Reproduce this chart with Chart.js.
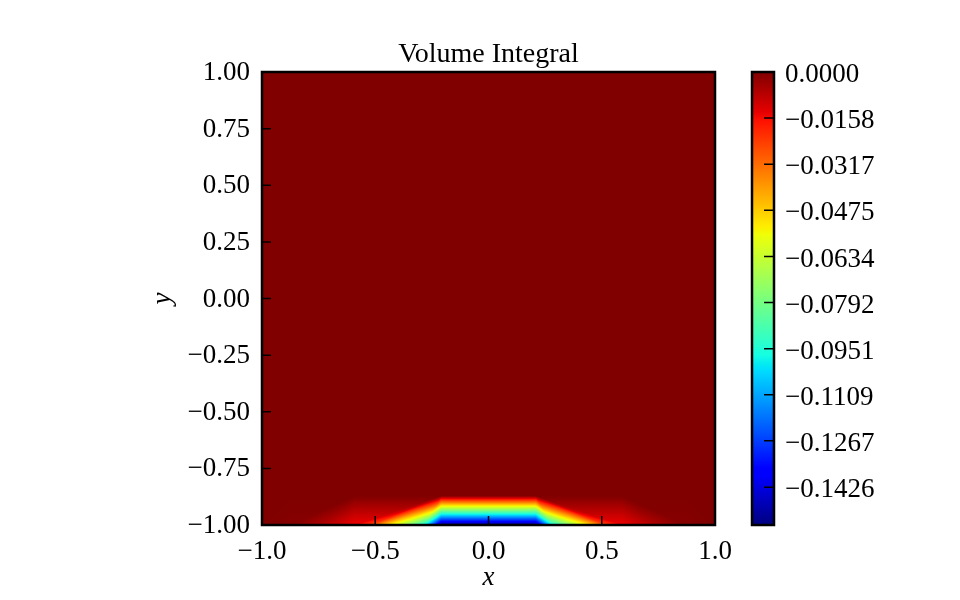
<!DOCTYPE html>
<html>
<head>
<meta charset="utf-8">
<script src="https://cdn.jsdelivr.net/npm/chart.js@4.4.0/dist/chart.umd.min.js"></script>
<style>
  html, body { margin: 0; padding: 0; background: #ffffff; }
  #wrap { position: relative; width: 960px; height: 600px; }
  #wrap canvas { position: absolute; left: 0; top: 0; }
</style>
</head>
<body>
<div id="wrap">
  <canvas id="main" width="960" height="600" style="width:960px;height:600px"></canvas>
  <canvas id="cbar" width="960" height="600" style="width:960px;height:600px;pointer-events:none"></canvas>
</div>
<script>
// ---------------- data ----------------
const chartTitle = 'Volume Integral';
const xAxisLabel = 'x';
const yAxisLabel = 'y';
const xTickValues = [-1, -0.5, 0, 0.5, 1];
const yTickValues = [-1, -0.75, -0.5, -0.25, 0, 0.25, 0.5, 0.75, 1];
const cbTickValues = [0, -0.0158, -0.0317, -0.0475, -0.0634, -0.0792, -0.0951, -0.1109, -0.1267, -0.1426];
// field values along the bottom edge (y = -1)
const bottomY = -1;
const bottomX = [-1, -0.8717, -0.73, -0.5917, -0.52, -0.48, -0.43, -0.35, -0.28, -0.2093,
                 0.2093, 0.28, 0.35, 0.43, 0.48, 0.52, 0.5917, 0.73, 0.8717, 1];
const bottomV = [0, -0.001, -0.007, -0.015, -0.025, -0.040, -0.056, -0.078, -0.100, -0.1556,
                 -0.1556, -0.100, -0.078, -0.056, -0.040, -0.025, -0.015, -0.007, -0.001, 0];
// first row of mesh nodes above the bottom edge; the field is zero there and everywhere above
const topY = -0.8717;
const topX = [-1, -0.8717, -0.5917, -0.2093, 0.2093, 0.5917, 0.8717, 1];
const topV = [0, 0, 0, 0, 0, 0, 0, 0];
const vMin = -0.1556;
const vMax = 0;

// ---------------- helpers ----------------
const FONT = "'Liberation Serif', 'DejaVu Serif', serif";
function fmt(v, d) {
  const s = Math.abs(v).toFixed(d);
  return (v < -1e-12 ? '\u2212' : '') + s;
}
function pw(pts, t) {
  if (t <= pts[0][0]) return pts[0][1];
  for (let i = 1; i < pts.length; i++) {
    if (t <= pts[i][0]) {
      const [x0, y0] = pts[i - 1], [x1, y1] = pts[i];
      return y0 + (y1 - y0) * (t - x0) / (x1 - x0);
    }
  }
  return pts[pts.length - 1][1];
}
const JR = [[0, 0], [0.35, 0], [0.66, 1], [0.89, 1], [1, 0.5]];
const JG = [[0, 0], [0.125, 0], [0.375, 1], [0.64, 1], [0.91, 0], [1, 0]];
const JB = [[0, 0.5], [0.11, 1], [0.34, 1], [0.65, 0], [1, 0]];
function jet(t) {
  t = Math.max(0, Math.min(1, t));
  return [Math.round(255 * pw(JR, t)), Math.round(255 * pw(JG, t)), Math.round(255 * pw(JB, t))];
}
// triangulation of the strip between the bottom edge and the first node row
const tris = [];
(function buildTris() {
  const bIndex = x => bottomX.findIndex(b => Math.abs(b - x) < 1e-9);
  for (let k = 0; k < topX.length - 1; k++) {
    const xa = topX[k], xb = topX[k + 1];
    const ia = bIndex(xa), ib = bIndex(xb);
    const ta = [xa, topY, topV[k]], tb = [xb, topY, topV[k + 1]];
    const B = i => [bottomX[i], bottomY, bottomV[i]];
    if (Math.abs(xb) <= Math.abs(xa)) {
      tris.push([ta, tb, B(ia)]);
      for (let i = ia; i < ib; i++) tris.push([tb, B(i), B(i + 1)]);
    } else {
      tris.push([ta, tb, B(ib)]);
      for (let i = ia; i < ib; i++) tris.push([ta, B(i), B(i + 1)]);
    }
  }
})();
function interpTri(px, py, t) {
  const [a, b, c] = t;
  const det = (b[1] - c[1]) * (a[0] - c[0]) + (c[0] - b[0]) * (a[1] - c[1]);
  const l1 = ((b[1] - c[1]) * (px - c[0]) + (c[0] - b[0]) * (py - c[1])) / det;
  const l2 = ((c[1] - a[1]) * (px - c[0]) + (a[0] - c[0]) * (py - c[1])) / det;
  const l3 = 1 - l1 - l2;
  if (l1 < -1e-7 || l2 < -1e-7 || l3 < -1e-7) return null;
  return l1 * a[2] + l2 * b[2] + l3 * c[2];
}
function linX(xs, vs, x) {
  for (let i = 0; i < xs.length - 1; i++) {
    if (x <= xs[i + 1]) return vs[i] + (vs[i + 1] - vs[i]) * (x - xs[i]) / (xs[i + 1] - xs[i]);
  }
  return vs[vs.length - 1];
}
function fieldAt(x, y) {
  if (y >= topY) return linX(topX, topV, x);
  for (const t of tris) {
    const v = interpTri(x, y, t);
    if (v !== null) return v;
  }
  return linX(bottomX, bottomV, x);
}

// ---------------- plugins ----------------
const heatPlugin = {
  id: 'heat',
  beforeDatasetsDraw(chart) {
    const { ctx, chartArea: a, scales: { x, y } } = chart;
    const w = Math.round(a.right - a.left), h = Math.round(a.bottom - a.top);
    const off = document.createElement('canvas');
    off.width = w; off.height = h;
    const octx = off.getContext('2d');
    const img = octx.createImageData(w, h);
    for (let j = 0; j < h; j++) {
      let yv = y.getValueForPixel(a.top + j + 0.5);
      yv = Math.max(-1, Math.min(1, yv));
      for (let i = 0; i < w; i++) {
        let xv = x.getValueForPixel(a.left + i + 0.5);
        xv = Math.max(-1, Math.min(1, xv));
        const c = jet((fieldAt(xv, yv) - vMin) / (vMax - vMin));
        const k = (j * w + i) * 4;
        img.data[k] = c[0]; img.data[k + 1] = c[1]; img.data[k + 2] = c[2]; img.data[k + 3] = 255;
      }
    }
    octx.putImageData(img, 0, 0);
    ctx.save();
    ctx.drawImage(off, a.left, a.top, w, h);
    ctx.restore();
  }
};
const framePlugin = {
  id: 'frame',
  afterDraw(chart) {
    const { ctx, chartArea: a, scales: { x, y } } = chart;
    ctx.save();
    ctx.strokeStyle = '#000';
    ctx.lineWidth = 1.5;
    ctx.beginPath();
    xTickValues.forEach(v => {
      const px = x.getPixelForValue(v);
      ctx.moveTo(px, a.bottom); ctx.lineTo(px, a.bottom - 9);
    });
    yTickValues.forEach(v => {
      const py = y.getPixelForValue(v);
      ctx.moveTo(a.left, py); ctx.lineTo(a.left + 9, py);
    });
    ctx.stroke();
    ctx.lineWidth = 2.5;
    ctx.strokeRect(a.left, a.top, a.right - a.left, a.bottom - a.top);
    ctx.restore();
  }
};
const cbarPlugin = {
  id: 'cbarfill',
  beforeDatasetsDraw(chart) {
    const { ctx, chartArea: a, scales: { y } } = chart;
    ctx.save();
    for (let py = Math.floor(a.top); py < Math.ceil(a.bottom); py++) {
      const v = y.getValueForPixel(py + 0.5);
      const c = jet((v - vMin) / (vMax - vMin));
      ctx.fillStyle = 'rgb(' + c[0] + ',' + c[1] + ',' + c[2] + ')';
      ctx.fillRect(a.left, py, a.right - a.left, 1);
    }
    ctx.restore();
  },
  afterDraw(chart) {
    const { ctx, chartArea: a, scales: { y } } = chart;
    ctx.save();
    ctx.strokeStyle = '#000';
    ctx.lineWidth = 1.5;
    ctx.beginPath();
    cbTickValues.forEach(v => {
      const py = y.getPixelForValue(v);
      ctx.moveTo(a.right, py); ctx.lineTo(a.right - 10, py);
    });
    ctx.stroke();
    ctx.lineWidth = 2.5;
    ctx.strokeRect(a.left, a.top, a.right - a.left, a.bottom - a.top);
    ctx.restore();
  }
};

// ---------------- main chart ----------------
new Chart(document.getElementById('main'), {
  type: 'scatter',
  data: { datasets: [{ data: [], showLine: false }] },
  options: {
    responsive: false,
    animation: false,
    layout: { padding: { left: 0, top: 0, right: 245, bottom: 0 } },
    plugins: {
      legend: { display: false },
      tooltip: { enabled: false },
      title: {
        display: true, text: chartTitle, fullSize: false, color: '#000',
        font: { family: FONT, size: 28, weight: 'normal' },
        padding: { top: 38, bottom: 0.4 }
      }
    },
    scales: {
      x: {
        type: 'linear', min: -1, max: 1,
        grid: { display: false, drawTicks: false },
        border: { display: false },
        afterBuildTicks: s => { s.ticks = xTickValues.map(v => ({ value: v })); },
        afterFit: s => { s.height = 75; },
        ticks: {
          color: '#000', font: { family: FONT, size: 27 }, padding: 10.5,
          maxRotation: 0, autoSkip: false, callback: v => fmt(v, 1)
        },
        title: {
          display: true, text: xAxisLabel, color: '#000',
          font: { family: FONT, size: 27, style: 'italic' },
          padding: { top: 0, bottom: 6 }
        }
      },
      y: {
        type: 'linear', min: -1, max: 1,
        grid: { display: false, drawTicks: false },
        border: { display: false },
        afterBuildTicks: s => { s.ticks = yTickValues.map(v => ({ value: v })); },
        afterFit: s => { s.width = 262; },
        ticks: {
          color: '#000', font: { family: FONT, size: 27 }, padding: 12, labelOffset: 1,
          autoSkip: false, callback: v => fmt(v, 2)
        },
        title: {
          display: true, text: yAxisLabel, color: '#000',
          font: { family: FONT, size: 27, style: 'italic' },
          padding: { top: 147, bottom: 0 }
        }
      }
    }
  },
  plugins: [heatPlugin, framePlugin]
});

// ---------------- colorbar ----------------
new Chart(document.getElementById('cbar'), {
  type: 'scatter',
  data: { datasets: [] },
  options: {
    responsive: false,
    animation: false,
    layout: { padding: { left: 752, top: 72, right: 0, bottom: 75 } },
    plugins: { legend: { display: false }, tooltip: { enabled: false }, title: { display: false } },
    scales: {
      x: { display: false, min: 0, max: 1 },
      y: {
        type: 'linear', position: 'right', min: vMin, max: vMax,
        grid: { display: false, drawTicks: false },
        border: { display: false },
        afterBuildTicks: s => { s.ticks = cbTickValues.map(v => ({ value: v })); },
        afterFit: s => { s.width = 186; },
        ticks: {
          color: '#000', font: { family: FONT, size: 27 }, padding: 11, labelOffset: 3,
          autoSkip: false, callback: v => fmt(v, 4)
        }
      }
    }
  },
  plugins: [cbarPlugin]
});
</script>
</body>
</html>
